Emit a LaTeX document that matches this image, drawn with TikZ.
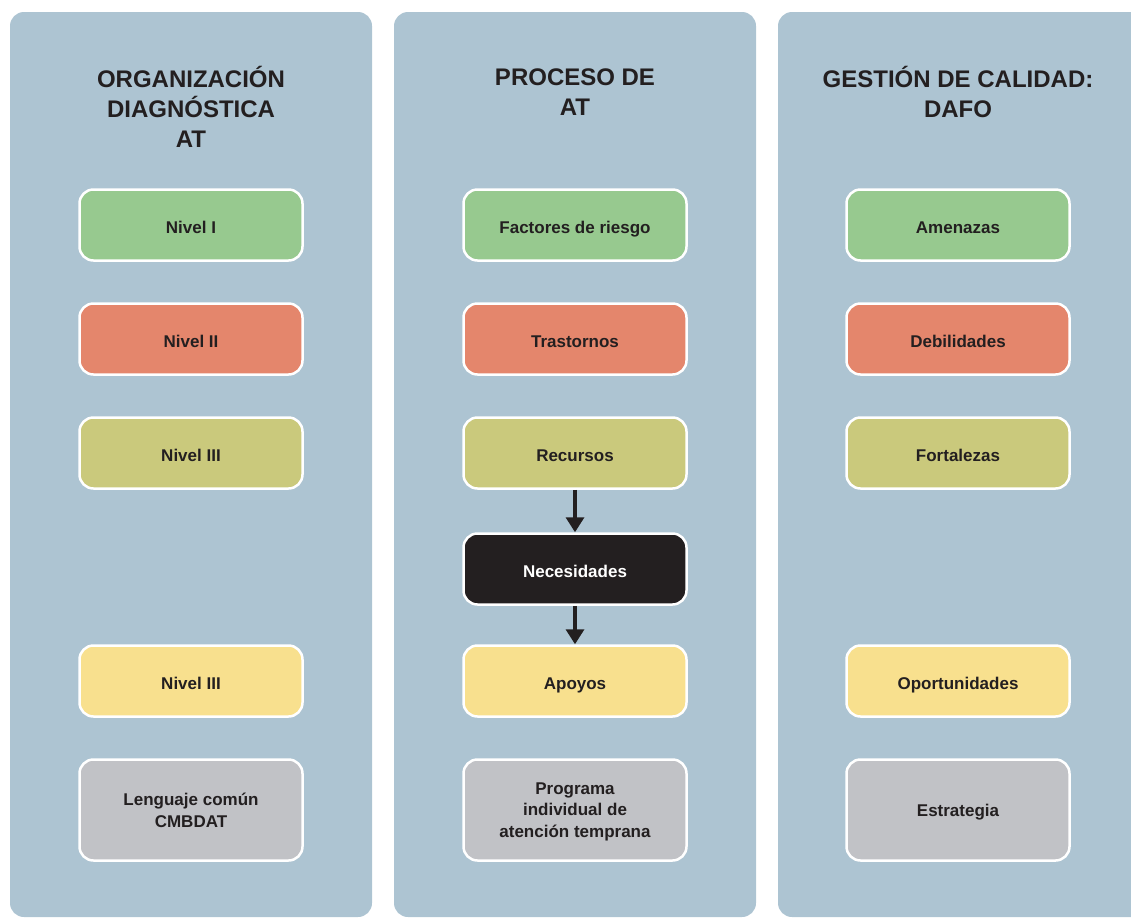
\documentclass[tikz,border=0pt]{standalone}
\usepackage{fontspec}
\setmainfont{Liberation Sans}
\usetikzlibrary{arrows.meta}
\definecolor{panelblue}{HTML}{ADC4D2}
\definecolor{ink}{HTML}{231F20}
\definecolor{boxgreen}{HTML}{97C98F}
\definecolor{boxred}{HTML}{E4866C}
\definecolor{boxolive}{HTML}{CAC97C}
\definecolor{boxyellow}{HTML}{F8E08E}
\definecolor{boxgray}{HTML}{C1C2C6}
\tikzset{
  panel/.style={fill=panelblue, rounded corners=14pt},
  title/.style={font=\fontsize{24}{30}\selectfont\bfseries, text=ink, align=center},
  itembase/.style={draw=white, line width=2.5pt, rounded corners=14pt,
    minimum width=223pt, align=center, text=ink,
    font=\fontsize{17}{21.5}\selectfont\bfseries},
  item/.style={itembase, minimum height=71pt, text height=17.5pt, text depth=0pt},
  tallitem/.style={itembase, minimum height=101pt, text depth=0pt},
  flow/.style={ink, line width=3.4pt, -{Triangle[width=18pt,length=15pt]}}
}
\begin{document}
\begin{tikzpicture}[x=1pt,y=-1pt]
  \useasboundingbox (0,0) rectangle (1131,919);
  \clip (0,0) rectangle (1131,919);
  % three column panels
  \fill[panel] (10,12) rectangle (372,917);
  \fill[panel] (394,12) rectangle (756,917);
  \fill[panel] (778,12) rectangle (1150,917);

  % column titles
  \node[title] (t1) at (191,107) {ORGANIZACIÓN\\DIAGNÓSTICA\\AT};
  \node[title] (t2) at (575,92) {PROCESO DE\\AT};
  \node[title] (t3) at (958,92) {GESTIÓN DE CALIDAD:\\DAFO};

  % left column
  \node[item, fill=boxgreen]  (a1) at (191,225) {Nivel I};
  \node[item, fill=boxred]    (a2) at (191,339) {Nivel II};
  \node[item, fill=boxolive]  (a3) at (191,453) {Nivel III};
  \node[item, fill=boxyellow] (a4) at (191,681) {Nivel III};
  \node[tallitem, fill=boxgray] (a5) at (191,810) {Lenguaje común\\CMBDAT};

  % middle column
  \node[item, fill=boxgreen]  (b1) at (575,225) {Factores de riesgo};
  \node[item, fill=boxred]    (b2) at (575,339) {Trastornos};
  \node[item, fill=boxolive]  (b3) at (575,453) {Recursos};
  \node[item, fill=ink, text=white] (b4) at (575,569) {Necesidades};
  \node[item, fill=boxyellow] (b5) at (575,681) {Apoyos};
  \node[tallitem, fill=boxgray] (b6) at (575,810) {Programa\\individual de\\atención temprana};

  % right column
  \node[item, fill=boxgreen]  (c1) at (958,225) {Amenazas};
  \node[item, fill=boxred]    (c2) at (958,339) {Debilidades};
  \node[item, fill=boxolive]  (c3) at (958,453) {Fortalezas};
  \node[item, fill=boxyellow] (c4) at (958,681) {Oportunidades};
  \node[tallitem, fill=boxgray] (c5) at (958,810) {Estrategia};

  % flow arrows
  \draw[flow] (b3.south) -- (b4.north);
  \draw[flow] (b4.south) -- (b5.north);
\end{tikzpicture}
\end{document}
